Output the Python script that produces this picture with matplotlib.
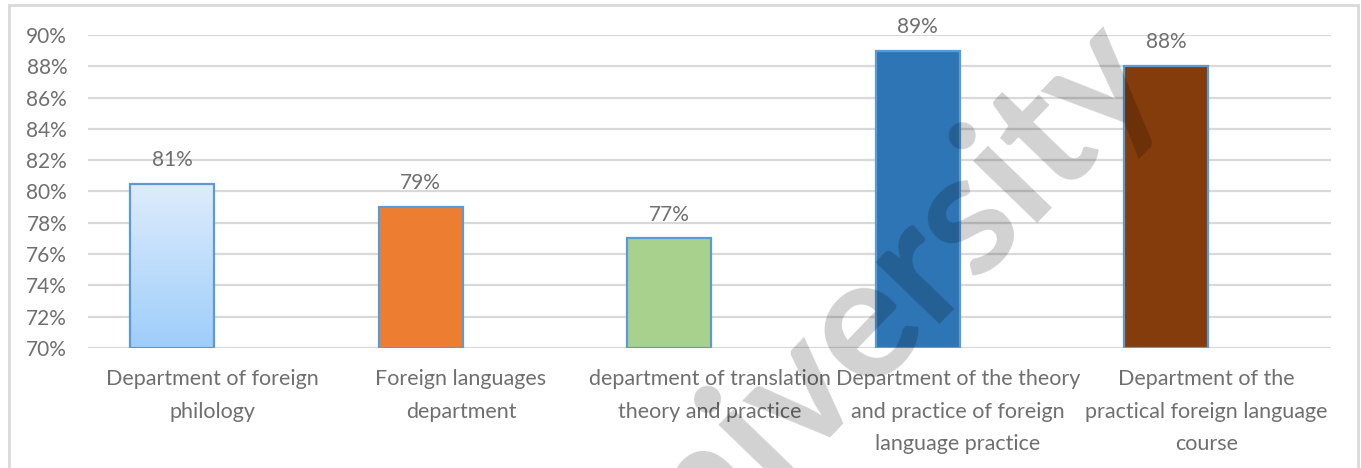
import numpy as np
import matplotlib
matplotlib.use("Agg")
import matplotlib.pyplot as plt
from matplotlib.patches import Rectangle
from matplotlib.colors import LinearSegmentedColormap

plt.rcParams['font.family'] = ['Lato', 'DejaVu Sans']

# data
departments = ["Department of foreign\nphilology",
               "Foreign languages\ndepartment",
               "department of translation\ntheory and practice",
               "Department of the theory\nand practice of foreign\nlanguage practice",
               "Department of the\npractical foreign language\ncourse"]
shares = [80.5, 79, 77, 89, 88]
share_labels = ["81%", "79%", "77%", "89%", "88%"]
bar_colors = ["none", "#ED7D31", "#A9D18E", "#2E75B6", "#843C0C"]
y_ticks = list(range(70, 91, 2))

txt_col = "#6f6f6f"
grid_col = "#D9D9D9"
edge_col = "#5B9BD5"

fig = plt.figure(figsize=(13.61, 4.68), dpi=100)
# outer chart border
fig.patches.append(Rectangle((9 / 1361, -0.1), 1349 / 1361, 1.1 - 5 / 468,
                             transform=fig.transFigure, fill=False,
                             edgecolor=grid_col, linewidth=2))

ax = fig.add_axes([88 / 1361, 1 - 348 / 468, (1331 - 88) / 1361, (348 - 35) / 468])

x = np.arange(len(shares))
offset = -0.162
width = 0.338
bars = ax.bar(x + offset, [s - 70 for s in shares], width, bottom=70,
              color=bar_colors, edgecolor=edge_col, linewidth=1.6, zorder=3)

# gradient fill for the first bar
grad = LinearSegmentedColormap.from_list("g", ["#9ECEFA", "#DEECFC"])
ax.imshow(np.linspace(0, 1, 100).reshape(-1, 1), cmap=grad, origin="lower",
          extent=[x[0] + offset - width / 2, x[0] + offset + width / 2, 70, shares[0]],
          aspect="auto", zorder=2.5)

for xi, s, lab in zip(x, shares, share_labels):
    ax.annotate(lab, (xi + offset, s), xytext=(0, 10), textcoords="offset points",
                ha="center", va="bottom", fontsize=15, color=txt_col)

ax.set_xlim(-0.5, 4.5)
ax.set_ylim(70, 90)
ax.set_yticks(y_ticks)
ax.set_yticklabels([f"{t}%" for t in y_ticks])
ax.set_xticks(x)
ax.set_xticklabels(departments, linespacing=1.8)
ax.tick_params(axis="y", length=0, pad=15, labelsize=15, labelcolor=txt_col)
ax.tick_params(axis="x", length=0, pad=15, labelsize=15.5, labelcolor=txt_col)
ax.yaxis.grid(True, color=grid_col, linewidth=1.6, zorder=0)
ax.set_axisbelow(True)
for sp in ax.spines.values():
    sp.set_visible(False)

# watermark
fig.text(855 / 1361, 1 - 328 / 468, "University", fontsize=124, color="black", alpha=0.18,
         rotation=46, ha="center", va="center", rotation_mode="anchor",
         fontweight="bold", family=["Liberation Sans Narrow", "Lato"])

fig.savefig("out.png", dpi=100)
